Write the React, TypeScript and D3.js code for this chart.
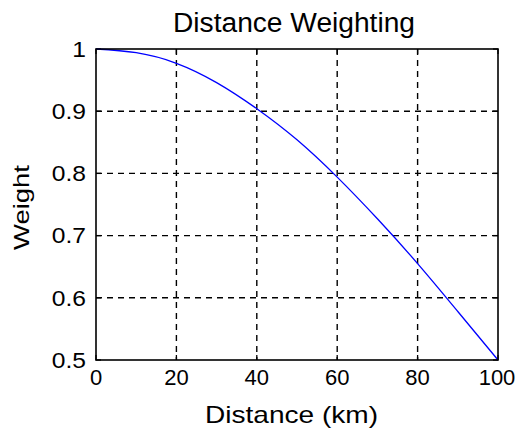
import React from "react";
import * as d3 from "d3";

const distances = [0, 10, 20, 30, 40, 50, 60, 70, 80, 90, 100];
const weights = [1.0, 0.994, 0.977, 0.946, 0.904, 0.854, 0.794, 0.727, 0.655, 0.578, 0.5];
const xTicks = [0, 20, 40, 60, 80, 100];
const yTicks = [0.5, 0.6, 0.7, 0.8, 0.9, 1];
const yTickLabels = ["0.5", "0.6", "0.7", "0.8", "0.9", "1"];
const title = "Distance Weighting";
const xLabel = "Distance (km)";
const yLabel = "Weight";

const W = 517;
const H = 429;
const left = 96;
const right = 498;
const top = 49;
const bottom = 360;
const FONT = "'Liberation Sans', Arial, Helvetica, sans-serif";

export default function App() {
  const x = d3.scaleLinear().domain([0, 100]).range([left, right]);
  const y = d3.scaleLinear().domain([0.5, 1]).range([bottom, top]);
  const pts = distances.map((d, i) => [d, weights[i]] as [number, number]);
  const line = d3
    .line<[number, number]>()
    .x((d) => x(d[0]))
    .y((d) => y(d[1]))
    .curve(d3.curveNatural);
  const tickLen = 5;

  return (
    <svg
      width={W}
      height={H}
      style={{ position: "absolute", left: 0, top: 0, background: "#fff" }}
      fontFamily={FONT}
    >
      <rect x={0} y={0} width={W} height={H} fill="#fff" />
      {/* grid */}
      {xTicks
        .filter((t) => t !== 0 && t !== 100)
        .map((t) => (
          <line
            key={"gx" + t}
            x1={x(t)}
            x2={x(t)}
            y1={top}
            y2={bottom}
            stroke="#000"
            strokeWidth={1.4}
            strokeDasharray="6,5"
          />
        ))}
      {yTicks
        .filter((t) => t !== 0.5 && t !== 1)
        .map((t) => (
          <line
            key={"gy" + t}
            x1={left}
            x2={right}
            y1={y(t)}
            y2={y(t)}
            stroke="#000"
            strokeWidth={1.4}
            strokeDasharray="6,5"
          />
        ))}
      {/* ticks */}
      {xTicks.map((t) => (
        <g key={"tx" + t}>
          <line x1={x(t)} x2={x(t)} y1={bottom} y2={bottom - tickLen} stroke="#000" strokeWidth={1.3} />
          <line x1={x(t)} x2={x(t)} y1={top} y2={top + tickLen} stroke="#000" strokeWidth={1.3} />
        </g>
      ))}
      {yTicks.map((t) => (
        <g key={"ty" + t}>
          <line x1={left} x2={left + tickLen} y1={y(t)} y2={y(t)} stroke="#000" strokeWidth={1.3} />
          <line x1={right} x2={right - tickLen} y1={y(t)} y2={y(t)} stroke="#000" strokeWidth={1.3} />
        </g>
      ))}
      {/* curve */}
      <path d={line(pts) || ""} fill="none" stroke="#0000ff" strokeWidth={1.3} />
      {/* frame */}
      <rect
        x={left}
        y={top}
        width={right - left}
        height={bottom - top}
        fill="none"
        stroke="#000"
        strokeWidth={1.6}
      />
      {/* tick labels */}
      {xTicks.map((t) => (
        <g key={"lx" + t} transform={`translate(${t === 100 ? x(t) - 1 : x(t)},385) scale(1.0,1)`}>
          <text textAnchor="middle" fontSize={22} fill="#000">
            {String(t)}
          </text>
        </g>
      ))}
      {yTicks.map((t, i) => (
        <g key={"ly" + t} transform={`translate(86,${y(t)}) scale(1.12,1)`}>
          <text textAnchor="end" dy="0.35em" fontSize={22} fill="#000">
            {yTickLabels[i]}
          </text>
        </g>
      ))}
      {/* title & labels */}
      <text x={294} y={32} textAnchor="middle" fontSize={27} fill="#000" textLength={242} lengthAdjust="spacingAndGlyphs">
        {title}
      </text>
      <text x={291.5} y={423} textAnchor="middle" fontSize={24} fill="#000" textLength={173} lengthAdjust="spacingAndGlyphs">
        {xLabel}
      </text>
      <text
        transform="translate(29,207.5) rotate(-90)"
        textAnchor="middle"
        fontSize={22}
        fill="#000"
        textLength={85}
        lengthAdjust="spacingAndGlyphs"
      >
        {yLabel}
      </text>
    </svg>
  );
}
